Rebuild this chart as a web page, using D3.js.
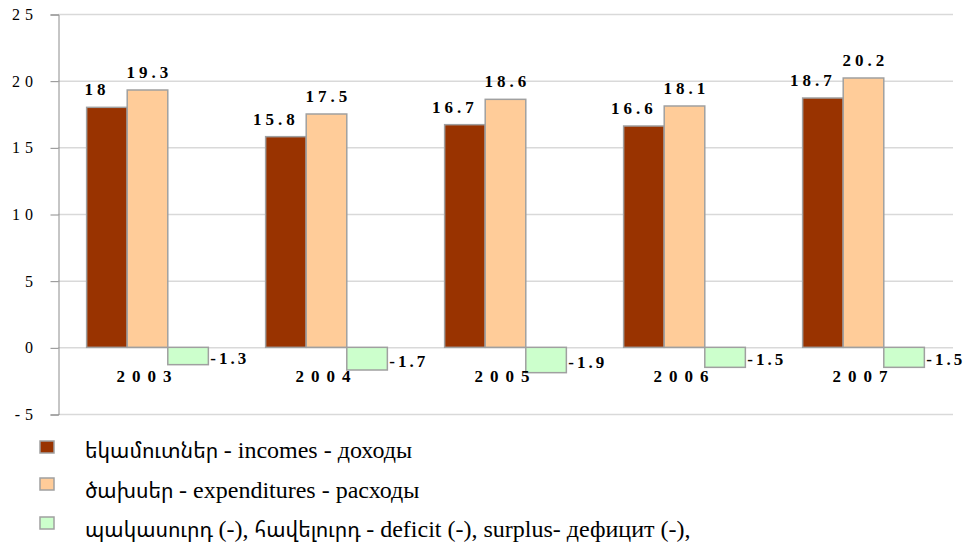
<!DOCTYPE html>
<html>
<head>
<meta charset="utf-8">
<script src="https://cdn.jsdelivr.net/npm/d3@7"></script>
<style>
body { margin: 0; background: #fff; }
svg text, svg tspan { font-family: 'Liberation Serif', serif; }
</style>
</head>
<body>
<script>
// data
var years = ['2003', '2004', '2005', '2006', '2007'];
var incomes = [18, 15.8, 16.7, 16.6, 18.7];
var expenditures = [19.3, 17.5, 18.6, 18.1, 20.2];
var deficit = [-1.3, -1.7, -1.9, -1.5, -1.5];
var yTicks = [-5, 0, 5, 10, 15, 20, 25];
var seriesNames = [
	'եկամուտներ - incomes - доходы',
	'ծախսեր - expenditures - расходы',
	'պակասուրդ (-), հավելուրդ - deficit (-), surplus- дефицит (-),'
];
var seriesKeys = ['inc', 'exp', 'def'];
var colors = ['#993300', '#ffcc99', '#ccffcc'];

var font = 'Liberation Serif';
var armFont = 'Noto Sans Armenian';

// size
var width = 966, height = 546;
var plot = {left: 58, right: 953, top: 14, bottom: 414};

var svg = d3.select('body').append('svg')
	.attr('width', width)
	.attr('height', height);

var x = d3.scaleBand()
	.domain(years)
	.range([plot.left, plot.right])
	.paddingInner(0.32)
	.paddingOuter(0.16);

var x1 = d3.scaleBand()
	.domain(seriesKeys)
	.range([0, x.bandwidth()])
	.padding(0);

var y = d3.scaleLinear()
	.domain([-5, 25])
	.range([plot.bottom, plot.top]);

var color = d3.scaleOrdinal().domain(seriesKeys).range(colors);

// gridlines
svg.append('g')
	.selectAll('line')
	.data(yTicks)
	.enter().append('line')
	.attr('x1', plot.left)
	.attr('x2', plot.right)
	.attr('y1', function(d) { return y(d) + 0.5; })
	.attr('y2', function(d) { return y(d) + 0.5; })
	.style('stroke', '#d9d9d9')
	.style('stroke-width', 1.5);

// y axis (labels drawn separately, spaced like the original)
var yAxis = svg.append('g')
	.attr('transform', 'translate(' + (plot.left + 0.5) + ',0.5)')
	.call(d3.axisLeft(y).tickValues(yTicks).tickSize(8).tickPadding(0).tickFormat(function(d) { return ''; }));
yAxis.select('.domain').style('stroke', '#8c8c8c');
yAxis.selectAll('.tick line').style('stroke', '#8c8c8c');

svg.append('g')
	.selectAll('text')
	.data(yTicks)
	.enter().append('text')
	.attr('x', 38)
	.attr('y', function(d) { return y(d) + 6; })
	.attr('text-anchor', 'end')
	.style('font-family', font)
	.style('font-size', '16px')
	.style('letter-spacing', '5px')
	.text(function(d) { return d; });

// rows
var rows = years.map(function(yr, i) {
	return {year: yr, vals: [
		{key: 'inc', v: incomes[i]},
		{key: 'exp', v: expenditures[i]},
		{key: 'def', v: deficit[i]}
	]};
});

var groups = svg.selectAll('.grp')
	.data(rows)
	.enter().append('g')
	.attr('class', 'grp')
	.attr('transform', function(d) { return 'translate(' + x(d.year) + ',0)'; });

groups.selectAll('rect')
	.data(function(d) { return d.vals; })
	.enter().append('rect')
	.attr('x', function(d) { return x1(d.key); })
	.attr('y', function(d) { return y(Math.max(0, d.v)); })
	.attr('width', x1.bandwidth())
	.attr('height', function(d) { return Math.abs(y(d.v) - y(0)); })
	.style('fill', function(d) { return color(d.key); })
	.style('stroke', '#a0a0a0')
	.style('stroke-width', 1.5);

// value labels
groups.selectAll('.val')
	.data(function(d) { return d.vals; })
	.enter().append('text')
	.attr('class', 'val')
	.attr('x', function(d) {
		if (d.key === 'def') return x1(d.key) + x1.bandwidth() + 2;
		return x1(d.key) + x1.bandwidth() / 2 + (d.key === 'inc' ? -10 : 2);
	})
	.attr('y', function(d) {
		if (d.key === 'def') return y(d.v / 2) + 8;
		return y(d.v) - 12;
	})
	.attr('text-anchor', function(d) { return d.key === 'def' ? 'start' : 'middle'; })
	.style('font-family', font)
	.style('font-size', '17px')
	.style('font-weight', 'bold')
	.style('letter-spacing', function(d) { return d.key === 'def' ? '3px' : '4px'; })
	.text(function(d) { return d.v; });

// year labels
groups.append('text')
	.attr('x', x.bandwidth() / 2)
	.attr('y', 382)
	.attr('text-anchor', 'middle')
	.style('font-family', font)
	.style('font-size', '17px')
	.style('font-weight', 'bold')
	.style('letter-spacing', '7px')
	.text(function(d) { return d.year; });

// legend
var legend = svg.selectAll('.leg')
	.data(seriesKeys)
	.enter().append('g')
	.attr('class', 'leg')
	.attr('transform', function(d, i) { return 'translate(40,' + [441, 478, 517][i] + ')'; });

legend.append('rect')
	.attr('width', 14)
	.attr('height', 12)
	.style('fill', function(d) { return color(d); })
	.style('stroke', '#a0a0a0')
	.style('stroke-width', 1.5);

// split names into Armenian / other runs so each run gets a font that has its glyphs
function runs(s) {
	var out = [], cur = '', arm = null;
	for (var k = 0; k < s.length; k++) {
		var c = s.charCodeAt(k);
		var isArm = c >= 0x0530 && c <= 0x058F;
		if (arm === null) arm = isArm;
		if (s[k] !== ' ' && isArm !== arm) {
			out.push({t: cur, arm: arm});
			cur = '';
			arm = isArm;
		}
		cur += s[k];
	}
	if (cur) out.push({t: cur, arm: arm});
	return out;
}

var legText = legend.append('text')
	.attr('x', 45)
	.attr('y', function(d, i) { return [17, 20, 20][i]; })
	.style('font-family', font)
	.style('font-size', '24px')
	.style('white-space', 'pre');

legText.selectAll('tspan')
	.data(function(d, i) { return runs(seriesNames[i]); })
	.enter().append('tspan')
	.style('font-family', function(d) { return d.arm ? armFont : font; })
	.style('font-size', function(d) { return d.arm ? '21px' : '24px'; })
	.text(function(d) { return d.t; });
</script>
</body>
</html>
